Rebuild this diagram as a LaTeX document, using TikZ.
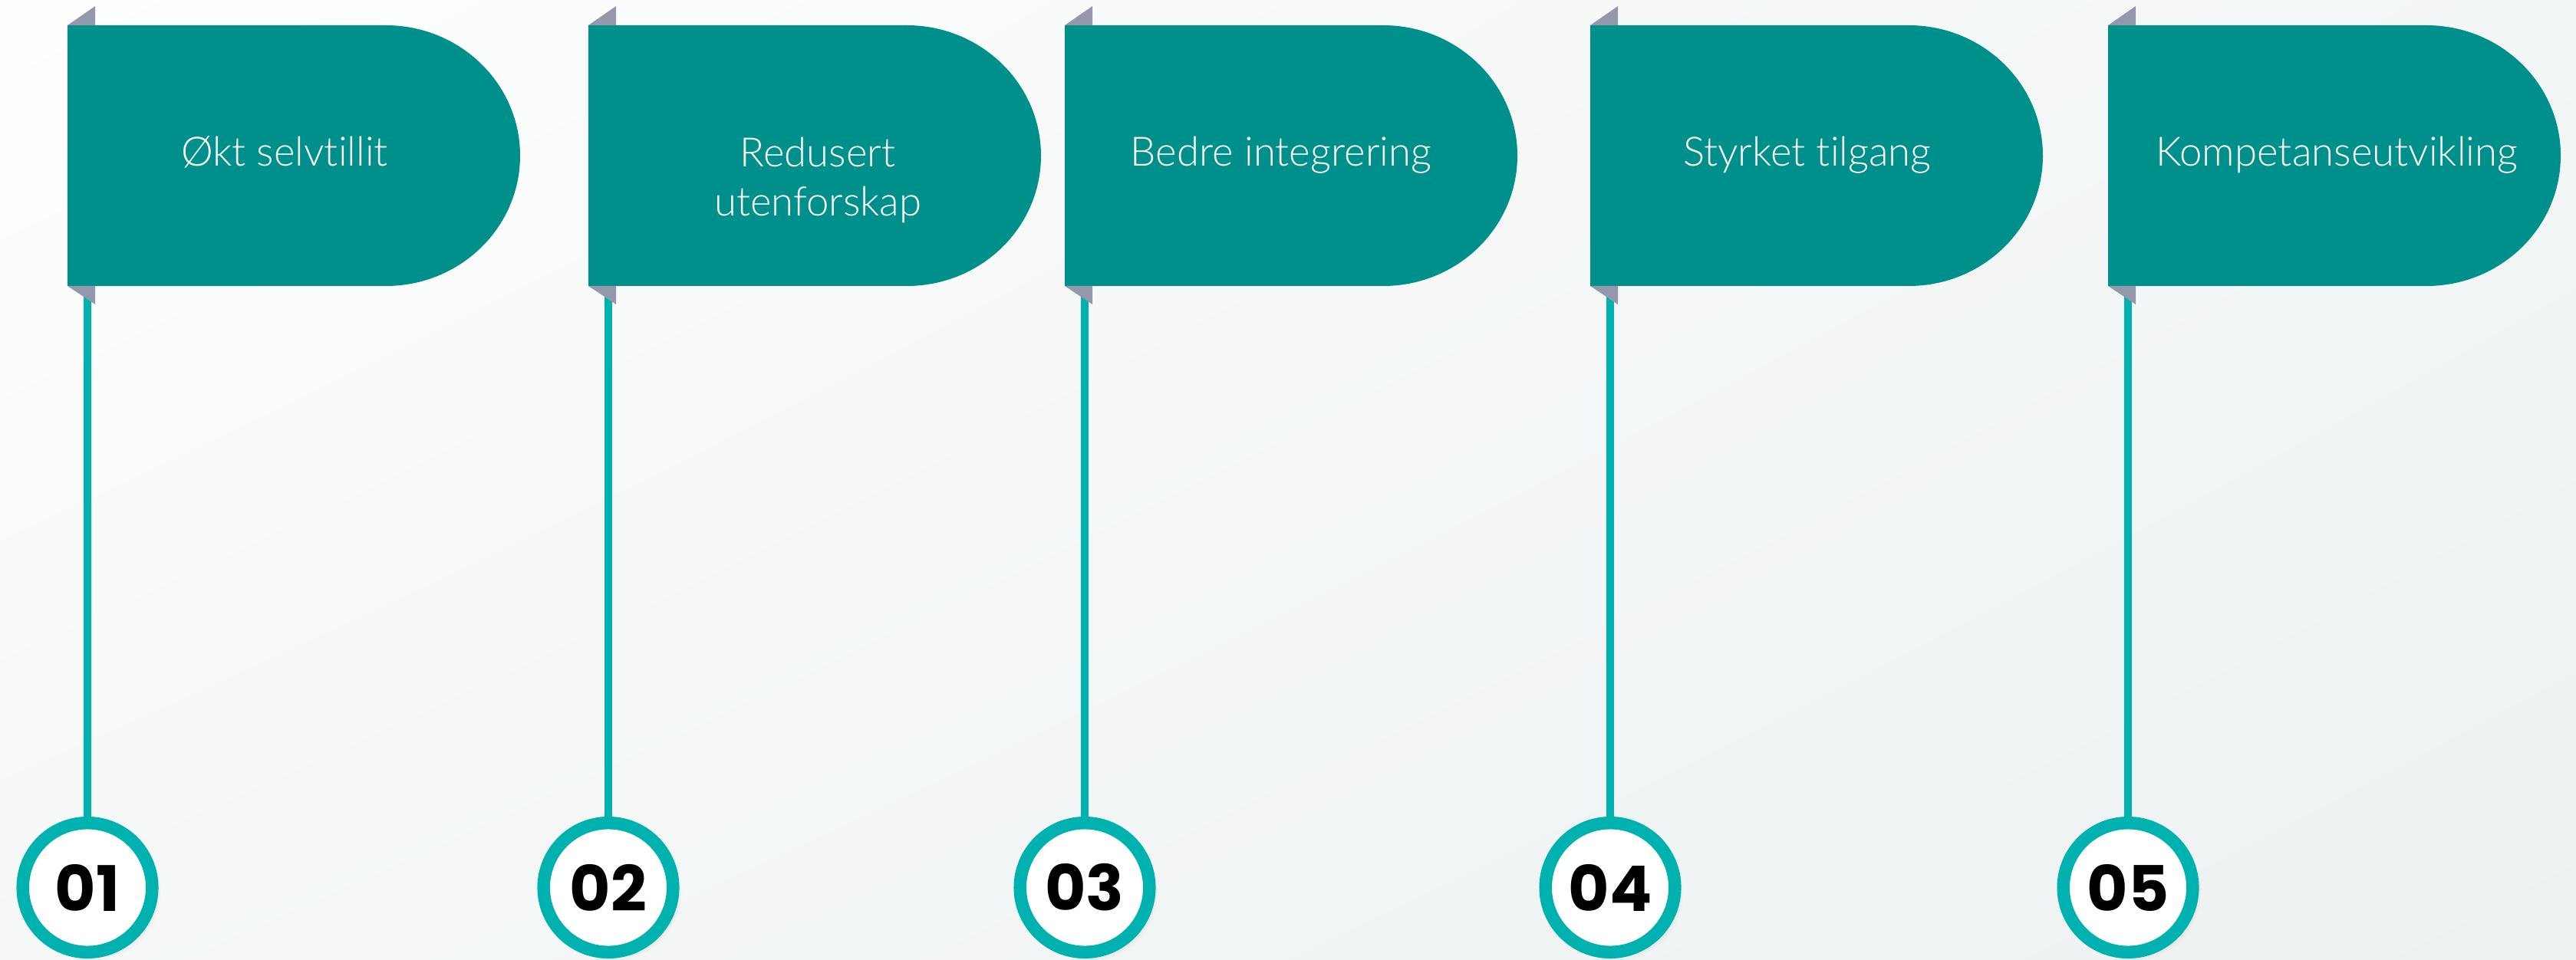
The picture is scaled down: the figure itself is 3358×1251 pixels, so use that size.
\documentclass[tikz,border=0pt]{standalone}
\usepackage{fontspec}
\usetikzlibrary{shadows}
\usetikzlibrary{shadings}
\newfontfamily\flagfont{Lato Light}[Ligatures=NoCommon]
\newfontfamily\numfont{Poppins}
\definecolor{flagteal}{HTML}{00908C}
\definecolor{ringteal}{HTML}{00B2AF}
\definecolor{tabgrey}{HTML}{9598AC}
\definecolor{bgtl}{HTML}{FEFEFE}
\definecolor{bgtr}{HTML}{F3F6F6}
\definecolor{bgbl}{HTML}{F6F8F8}
\definecolor{bgbr}{HTML}{EDF1F1}

\begin{document}
\begin{tikzpicture}[x=0.01cm, y=0.01cm,
	flag/.style={fill=flagteal},
	tab/.style={fill=tabgrey},
	pole/.style={draw=ringteal, line width=0.1cm},
	flagtext/.style={text=white, font=\flagfont\fontsize{15}{18.2}\selectfont, align=center},
	num/.style={circle, draw=ringteal, line width=0.165cm, fill=white, minimum size=1.685cm, inner sep=0pt, font=\numfont\bfseries\fontsize{23.3}{28}\selectfont, circular drop shadow={shadow xshift=0.06cm, shadow yshift=-0.06cm, opacity=0.18, shadow scale=1.06}}]
			\useasboundingbox (0,0) rectangle (3358,1251);
			\shade[upper left=bgtl, upper right=bgtr, lower left=bgbl, lower right=bgbr] (0,0) rectangle (3358,1251);
			\coordinate (p1) at (114,878);
			\node[num] (n1) at (114,93.5) {01};
			\draw[pole] (p1) -- (n1);
			\fill[flag] (88,1218) -- (503,1218) arc[start angle=90, end angle=-90, x radius=175, y radius=170] -- (88,878) -- cycle;
			\fill[tab] (88,1218) -- (124,1243) -- (124,1218) -- cycle;
			\fill[tab] (88,878) -- (124,854) -- (124,878) -- cycle;
			\node[flagtext, anchor=base] (t1) at (371,1034) {Økt selvtillit};
			\coordinate (p2) at (793,878);
			\node[num] (n2) at (793,93.5) {02};
			\draw[pole] (p2) -- (n2);
			\fill[flag] (767,1218) -- (1182,1218) arc[start angle=90, end angle=-90, x radius=175, y radius=170] -- (767,878) -- cycle;
			\fill[tab] (767,1218) -- (803,1243) -- (803,1218) -- cycle;
			\fill[tab] (767,878) -- (803,854) -- (803,878) -- cycle;
			\node[flagtext] (t2) at (1066,1016) {Redusert \\ utenforskap};
			\coordinate (p3) at (1414,878);
			\node[num] (n3) at (1414,93.5) {03};
			\draw[pole] (p3) -- (n3);
			\fill[flag] (1388,1218) -- (1803,1218) arc[start angle=90, end angle=-90, x radius=175, y radius=170] -- (1388,878) -- cycle;
			\fill[tab] (1388,1218) -- (1424,1243) -- (1424,1218) -- cycle;
			\fill[tab] (1388,878) -- (1424,854) -- (1424,878) -- cycle;
			\node[flagtext, anchor=base] (t3) at (1670,1034) {Bedre integrering};
			\coordinate (p4) at (2099,878);
			\node[num] (n4) at (2099,93.5) {04};
			\draw[pole] (p4) -- (n4);
			\fill[flag] (2073,1218) -- (2488,1218) arc[start angle=90, end angle=-90, x radius=175, y radius=170] -- (2073,878) -- cycle;
			\fill[tab] (2073,1218) -- (2109,1243) -- (2109,1218) -- cycle;
			\fill[tab] (2073,878) -- (2109,854) -- (2109,878) -- cycle;
			\node[flagtext, anchor=base] (t4) at (2356,1034) {Styrket tilgang};
			\coordinate (p5) at (2774,878);
			\node[num] (n5) at (2774,93.5) {05};
			\draw[pole] (p5) -- (n5);
			\fill[flag] (2748,1218) -- (3163,1218) arc[start angle=90, end angle=-90, x radius=175, y radius=170] -- (2748,878) -- cycle;
			\fill[tab] (2748,1218) -- (2784,1243) -- (2784,1218) -- cycle;
			\fill[tab] (2748,878) -- (2784,854) -- (2784,878) -- cycle;
			\node[flagtext, anchor=base] (t5) at (3046,1034) {Kompetanseutvikling};
		\end{tikzpicture}
\end{document}
